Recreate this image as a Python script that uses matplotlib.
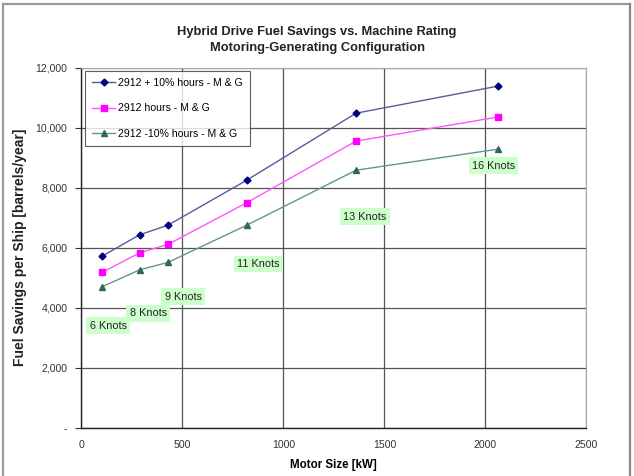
import matplotlib
matplotlib.use("Agg")
import matplotlib.pyplot as plt
from matplotlib.lines import Line2D

plt.rcParams['font.family'] = ['Liberation Sans', 'DejaVu Sans']

motor_kw = [105, 290, 430, 820, 1360, 2060]
plus10 = [5720, 6430, 6750, 8250, 10480, 11380]
base = [5180, 5830, 6110, 7500, 9550, 10350]
minus10 = [4700, 5260, 5510, 6750, 8580, 9280]
series_names = ["2912 + 10% hours - M & G", "2912 hours - M & G", "2912 -10% hours - M & G"]

speed_labels = ["6 Knots", "8 Knots", "9 Knots", "11 Knots", "13 Knots", "16 Knots"]
label_x = [134, 332, 505, 876, 1404, 2040]
label_y = [3400, 3810, 4370, 5450, 7030, 8730]

xticks = [0, 500, 1000, 1500, 2000, 2500]
yticks = [0, 2000, 4000, 6000, 8000, 10000, 12000]
ytick_labels = ["-", "2,000", "4,000", "6,000", "8,000", "10,000", "12,000"]

fig = plt.figure(figsize=(6.34, 4.76), dpi=100)
ax = fig.add_axes([0.128, 0.1015, 0.797, 0.7565])

ax.plot(motor_kw, plus10, color="#5a5a9e", lw=1.0, marker="D", ms=3.5,
        mfc="#000080", mec="#000080", label=series_names[0], zorder=3)
ax.plot(motor_kw, base, color="#ff55ff", lw=1.0, marker="s", ms=5,
        mfc="#ff00ff", mec="#ff00ff", label=series_names[1], zorder=3)
ax.plot(motor_kw, minus10, color="#5f9a80", lw=1.0, marker="^", ms=4.5,
        mfc="#336655", mec="#336655", label=series_names[2], zorder=3)

for t, x, y in zip(speed_labels, label_x, label_y):
    ax.text(x, y, t, ha="center", va="center", fontsize=7.8, color="#222222",
            bbox=dict(boxstyle="square,pad=0.3", fc="#ccffcc", ec="none"), zorder=4)

ax.set_xlim(0, 2500)
ax.set_ylim(0, 12000)
ax.set_xticks(xticks)
ax.set_xticklabels([str(v) for v in xticks])
ax.set_yticks(yticks)
ax.set_yticklabels(ytick_labels)
ax.tick_params(labelsize=7.6, colors="#333333", length=4, width=0.8, direction="out")
ax.tick_params(axis="y", pad=6)
ax.tick_params(axis="x", length=0, pad=9)
ax.grid(True, color="#555555", lw=0.9, zorder=1)
for s in ["top", "right"]:
    ax.spines[s].set_color("#aaaaaa")
for s in ["left", "bottom"]:
    ax.spines[s].set_color("#222222")
    ax.spines[s].set_linewidth(1.0)

ax.set_xlabel("Motor Size [kW]", fontsize=8.3, fontweight="bold", labelpad=6)
ax.set_ylabel("Fuel Savings per Ship [barrels/year]", fontsize=10, fontweight="bold",
              labelpad=6, color="#222222")

fig.text(0.5, 0.933, "Hybrid Drive Fuel Savings vs. Machine Rating", ha="center",
         va="center", fontsize=9.3, fontweight="bold", color="#222222")
fig.text(0.5, 0.900, "Motoring-Generating Configuration", ha="center",
         va="center", fontsize=9.3, fontweight="bold", color="#222222")

leg = ax.legend(loc="upper left", bbox_to_anchor=(0.008, 0.99), fontsize=7.6,
                frameon=True, fancybox=False, edgecolor="#333333",
                handlelength=2.2, handletextpad=0.3, labelspacing=1.45,
                borderpad=0.65, borderaxespad=0)
leg.get_frame().set_linewidth(0.8)
leg.set_zorder(5)

# outer frame
fig.add_artist(Line2D([0.005, 0.994], [0.991, 0.991], transform=fig.transFigure, color="#999999", lw=1.6))
fig.add_artist(Line2D([0.005, 0.005], [0.0, 0.991], transform=fig.transFigure, color="#999999", lw=1.6))
fig.add_artist(Line2D([0.994, 0.994], [0.0, 0.991], transform=fig.transFigure, color="#888888", lw=1.6))

fig.savefig("out.png", dpi=100)
